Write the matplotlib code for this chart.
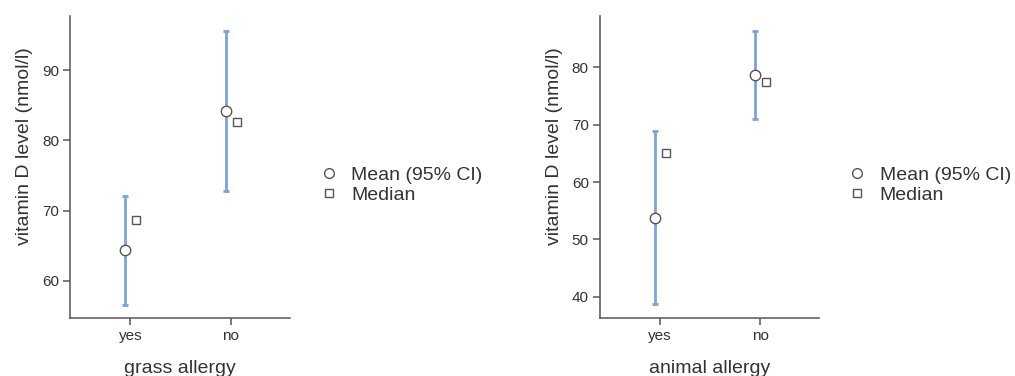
import matplotlib
matplotlib.use("Agg")
from matplotlib import pyplot as plt
from matplotlib.lines import Line2D

plt.rcParams['font.family'] = ['Liberation Sans', 'DejaVu Sans']

groups = ['yes', 'no']

# grass allergy
grass_mean = [64.4, 84.2]
grass_lo = [56.5, 72.8]
grass_hi = [72.1, 95.6]
grass_median = [68.6, 82.6]

# animal allergy
animal_mean = [53.8, 78.7]
animal_lo = [38.7, 71.0]
animal_hi = [68.9, 86.4]
animal_median = [65.0, 77.5]

BLUE = '#7ba3dd'
GREY = '#555555'
TXT = '#333333'


def panel(ax, mean, lo, hi, med, xlabel, ylim, yticks):
    x = [1, 2]
    xm = [i - 0.05 for i in x]
    xd = [i + 0.06 for i in x]
    err = [[m - l for m, l in zip(mean, lo)], [h - m for m, h in zip(mean, hi)]]
    ax.errorbar(xm, mean, yerr=err, fmt='none', ecolor=BLUE, elinewidth=2,
                capsize=2.5, capthick=2, zorder=1)
    ax.plot(xm, mean, 'o', ms=7.5, mfc='white', mec=GREY, mew=1, zorder=3)
    ax.plot(xd, med, 's', ms=6, mfc='white', mec=GREY, mew=1, zorder=3)
    ax.set_xlim(0.4, 2.59)
    ax.set_ylim(*ylim)
    ax.set_xticks(x)
    ax.set_xticklabels(groups)
    ax.set_yticks(yticks)
    for s in ['top', 'right']:
        ax.spines[s].set_visible(False)
    for s in ['left', 'bottom']:
        ax.spines[s].set_color(GREY)
        ax.spines[s].set_linewidth(1.1)
    ax.tick_params(colors=GREY, labelcolor=TXT, labelsize=11, length=5,
                   width=1.1, pad=3)
    ax.set_xlabel(xlabel, fontsize=14, color=TXT)
    ax.xaxis.set_label_coords(0.5, -0.139)
    ax.set_ylabel('vitamin D level (nmol/l)', fontsize=14, color=TXT)
    ax.yaxis.set_label_coords(-0.17, 0.57)
    handles = [
        Line2D([], [], marker='o', ls='none', ms=7, mfc='white', mec=GREY, mew=1),
        Line2D([], [], marker='s', ls='none', ms=6, mfc='white', mec=GREY, mew=1),
    ]
    ax.legend(handles, ['Mean (95% CI)', 'Median'], loc='center left',
              bbox_to_anchor=(1.095, 0.44), frameon=False, fontsize=14,
              handlelength=0.8, handletextpad=0.75, labelspacing=0.12,
              borderpad=0, labelcolor=TXT)


fig = plt.figure(figsize=(10.15, 3.76), dpi=100)
ax1 = fig.add_axes([0.069, 0.154, 0.217, 0.803])
ax2 = fig.add_axes([0.591, 0.154, 0.216, 0.803])

panel(ax1, grass_mean, grass_lo, grass_hi, grass_median, 'grass allergy',
      (54.7, 97.7), [60, 70, 80, 90])
panel(ax2, animal_mean, animal_lo, animal_hi, animal_median, 'animal allergy',
      (36.3, 88.9), [40, 50, 60, 70, 80])

fig.savefig('out.png', dpi=100)
